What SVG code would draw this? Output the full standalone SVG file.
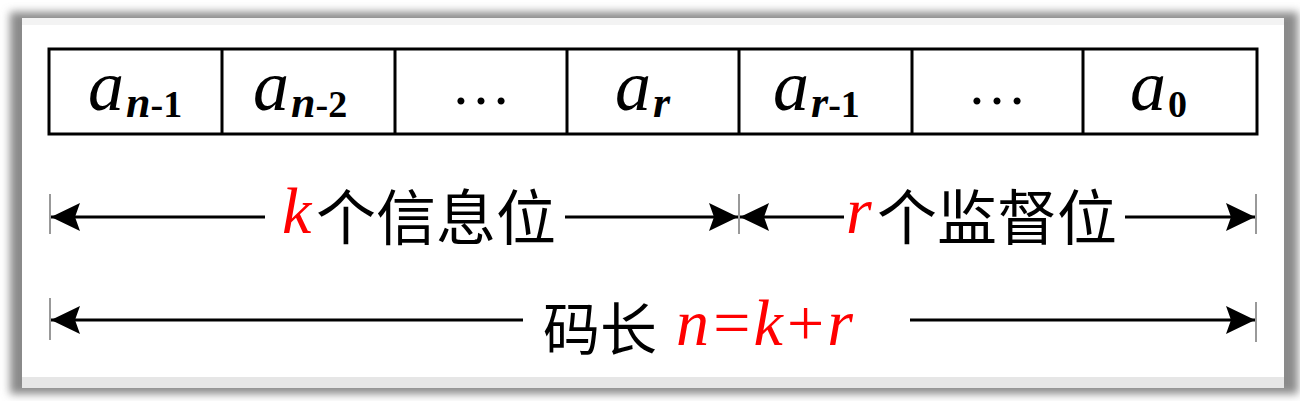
<svg xmlns="http://www.w3.org/2000/svg" width="1300" height="401" viewBox="0 0 1300 401">
<style>
.cell{fill:#fff;stroke:#000;stroke-width:3}
.lat{font-family:"Liberation Serif",serif;font-style:italic;font-size:72px;fill:#000}
.sn{font-family:"Liberation Serif",serif;font-style:italic;font-weight:bold;font-size:44px}
.sd{font-family:"Liberation Serif",serif;font-style:normal;font-weight:bold;font-size:38px}
.dots{font-family:"Liberation Serif",serif;font-size:60px;fill:#000}
.cjk{font-family:"Noto Sans CJK SC",sans-serif;font-size:60px;fill:#000}
.red{font-family:"Liberation Serif",serif;font-style:italic;font-size:66px;fill:#ff0000}
.arr{stroke:#000;stroke-width:3;fill:none;marker-end:url(#ah)}
.tick{stroke:#999;stroke-width:2}
</style>
<defs>
<marker id="ah" markerUnits="userSpaceOnUse" markerWidth="32" markerHeight="32" viewBox="-30 -16 32 32" refX="0" refY="0" orient="auto">
<path d="M0,0 L-29,-14 L-24,0 L-29,14 Z" fill="#000"/>
</marker>
<filter id="sh" x="-5%" y="-10%" width="110%" height="120%">
<feGaussianBlur stdDeviation="4"/>
</filter>
</defs>
<rect width="1300" height="401" fill="#fff"/>
<rect x="10" y="12" width="1288" height="382" fill="#8a8a8a" filter="url(#sh)"/>
<rect x="22" y="18" width="1262" height="370" fill="#e6e6e6"/>
<rect x="22" y="18" width="1262" height="7" fill="#f3f3f3"/>
<rect x="22" y="25" width="1262" height="352" fill="#fff"/>

<g id="table">
<rect class="cell" x="49" y="49" width="1208" height="85"/>
<path d="M222,49V134M395,49V134M567,49V134M739,49V134M912,49V134M1083,49V134" stroke="#000" stroke-width="3"/>
</g>
<g id="cell-an1"><text class="lat" x="88" y="110">a<tspan class="sn" dy="7" dx="2">n</tspan><tspan class="sd">-1</tspan></text></g>
<g id="cell-an2"><text class="lat" x="253" y="110">a<tspan class="sn" dy="7" dx="2">n</tspan><tspan class="sd">-2</tspan></text></g>
<g id="cell-dots1"><text class="dots" x="481" y="104" text-anchor="middle">…</text></g>
<g id="cell-ar"><text class="lat" x="615" y="110">a<tspan class="sn" dy="7" dx="2">r</tspan></text></g>
<g id="cell-ar1"><text class="lat" x="773" y="110">a<tspan class="sn" dy="7" dx="2">r</tspan><tspan class="sd">-1</tspan></text></g>
<g id="cell-dots2"><text class="dots" x="997" y="104" text-anchor="middle">…</text></g>
<g id="cell-a0"><text class="lat" x="1130" y="110">a<tspan class="sd" dy="7" dx="2">0</tspan></text></g>

<g id="connectors">
<line class="arr" x1="265" y1="217" x2="51" y2="217"/>
<line class="arr" x1="565" y1="217" x2="738" y2="217"/>
<line class="arr" x1="844" y1="217" x2="740" y2="217"/>
<line class="arr" x1="1125" y1="217" x2="1255" y2="217"/>
<line class="arr" x1="523" y1="320" x2="51" y2="320"/>
<line class="arr" x1="910" y1="320" x2="1255" y2="320"/>
<line class="tick" x1="50" y1="194" x2="50" y2="234"/>
<line class="tick" x1="739" y1="194" x2="739" y2="234"/>
<line class="tick" x1="1256" y1="194" x2="1256" y2="234"/>
<line class="tick" x1="50" y1="298" x2="50" y2="340"/>
<line class="tick" x1="1256" y1="302" x2="1256" y2="342"/>
</g>

<g id="label-k">
<text class="red" x="282" y="233">k</text>
<text class="cjk" x="316" y="240">个信息位</text>
</g>
<g id="label-r">
<text class="red" x="846" y="233">r</text>
<text class="cjk" x="877" y="240">个监督位</text>
</g>
<g id="label-n">
<text class="cjk" x="543" y="350" style="font-size:57px">码长</text>
<text class="red" x="676" y="345">n=k+r</text>
</g>
</svg>
